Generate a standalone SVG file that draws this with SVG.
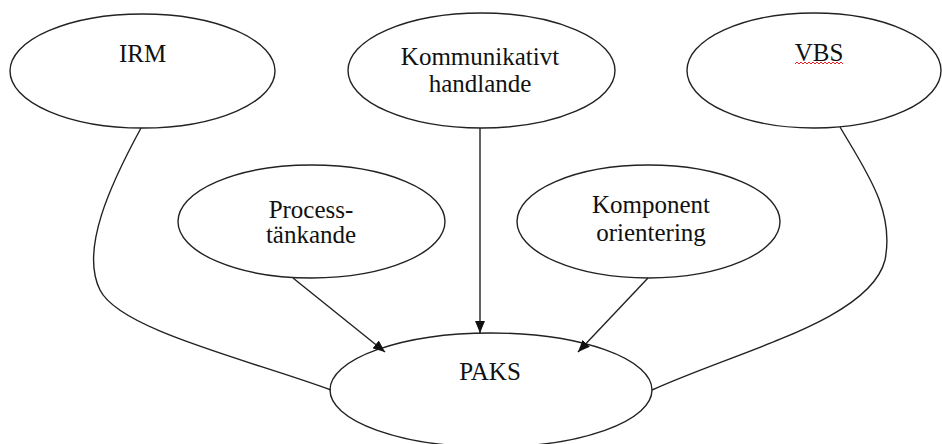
<svg xmlns="http://www.w3.org/2000/svg" width="942" height="444" viewBox="0 0 942 444">
<style>
.node ellipse{fill:#fff;stroke:#222;stroke-width:1.4}
.node text{font-family:'Liberation Serif','Times New Roman','DejaVu Serif',serif;font-size:25px;fill:#111;text-anchor:middle}
.conn path,.conn line{fill:none;stroke:#222;stroke-width:1.4}
</style>
<defs>
<marker id="arr" viewBox="0 0 12 10" refX="12" refY="5" markerWidth="12" markerHeight="10" markerUnits="userSpaceOnUse" orient="auto">
<path d="M0,0 L12,5 L0,10 Z" fill="#111"/>
</marker>
</defs>
<rect width="942" height="444" fill="#fff"/>
<g id="irm" class="node">
<ellipse cx="142.5" cy="71" rx="132.5" ry="57"/>
<text x="142.5" y="62" font-family="Liberation Serif, serif">IRM</text>
</g>
<g id="kommunikativt" class="node">
<ellipse cx="481.5" cy="70.5" rx="133.5" ry="57.5"/>
<text x="480" y="65" font-family="Liberation Serif, serif">Kommunikativt</text>
<text x="480" y="92" font-family="Liberation Serif, serif">handlande</text>
</g>
<g id="vbs" class="node">
<ellipse cx="814" cy="70.5" rx="127" ry="57.5"/>
<text x="819" y="61" font-family="Liberation Serif, serif">VBS</text>
<path d="M795,64 l2,-2 l2,2 l2,-2 l2,2 l2,-2 l2,2 l2,-2 l2,2 l2,-2 l2,2 l2,-2 l2,2 l2,-2 l2,2 l2,-2 l2,2 l2,-2 l2,2 l2,-2 l2,2 l2,-2 l2,2 l2,-2 l2,2" fill="none" stroke="#e02020" stroke-width="1"/>
</g>
<g id="process" class="node">
<ellipse cx="311.5" cy="221.5" rx="133.5" ry="56.5"/>
<text x="311" y="218" font-family="Liberation Serif, serif">Process-</text>
<text x="311" y="243" font-family="Liberation Serif, serif">tänkande</text>
</g>
<g id="komponent" class="node">
<ellipse cx="648.5" cy="221.5" rx="131.5" ry="56.5"/>
<text x="651" y="213" font-family="Liberation Serif, serif">Komponent</text>
<text x="651" y="241" font-family="Liberation Serif, serif">orientering</text>
</g>
<g id="paks" class="node">
<ellipse cx="491" cy="390" rx="161" ry="57"/>
<text x="490" y="380" font-family="Liberation Serif, serif">PAKS</text>
</g>
<g id="connectors" class="conn">
<path d="M141,128 C110,185 80,250 100,290 C120,330 250,360 331,390"/>
<path d="M840,127 C865,170 895,210 885,260 C870,320 740,350 652,390"/>
<line x1="480" y1="128" x2="480" y2="333" marker-end="url(#arr)"/>
<line x1="293" y1="278" x2="385" y2="352" marker-end="url(#arr)"/>
<line x1="648" y1="278" x2="578" y2="352" marker-end="url(#arr)"/>
</g>
</svg>
